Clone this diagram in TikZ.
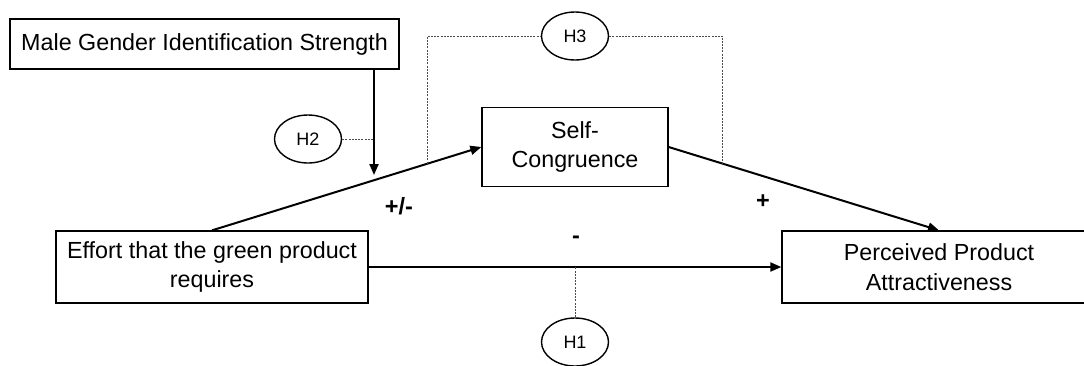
\documentclass[tikz,border=0pt]{standalone}
\usepackage{fontspec}
\setmainfont{Liberation Sans}
\usetikzlibrary{arrows.meta,shapes.geometric}
\begin{document}
\begin{tikzpicture}[x=1pt,y=-1pt,
  box/.style={draw=black,line width=1.3pt,rectangle,align=center,inner sep=0pt,
    font=\fontsize{23.3}{29.5}\selectfont},
  hyp/.style={draw=black,line width=1.4pt,ellipse,inner sep=0pt,
    minimum width=67pt,minimum height=48pt,font=\fontsize{18}{20}\selectfont},
  arr/.style={draw=black,line width=2pt,-{Triangle[length=11pt,width=9pt]}},
  dot/.style={draw=black!70,line width=0.8pt,dash pattern=on 2pt off 1.2pt},
  sign/.style={font=\fontsize{23.5}{25}\selectfont\bfseries,inner sep=0pt}]
\useasboundingbox (0,0) rectangle (1084,365);
\fill[white] (0,0) rectangle (1084,365);
% boxes
\node[box,minimum width=389pt,minimum height=50pt] (male) at (204.5,44) {Male Gender Identification Strength};
\node[box,minimum width=186pt,minimum height=79pt] (self) at (575,147) {Self-\\Congruence};
\node[box,minimum width=312pt,minimum height=72pt] (effort) at (212,267) {Effort that the green product\\requires};
\node[box,minimum width=314pt,minimum height=72pt] (perc) at (939,267) {Perceived Product\\Attractiveness};
% hypotheses
\node[hyp] (h1) at (575,342) {H1};
\node[hyp] (h2) at (308,139) {H2};
\node[hyp] (h3) at (575,36) {H3};
% signs
\node[sign] (s1) at (399,206) {+/-};
\node[sign] (s2) at (763,202) {+};
\node[sign] (s3) at (576,240) {-};
% arrows
\coordinate (mtip) at (374,175);
\draw[arr] (mtip |- male.south) -- (mtip);
\draw[arr] (effort.north) -- (self.west);
\draw[arr] (self.east) -- (perc.north);
\draw[arr] (effort.east) -- (perc.west);
% dotted links
\draw[dot] (h2.east) -- (h2.east -| mtip);
\draw[dot] (h1.north) -- (h1.north |- effort.east);
\path (effort.north) -- (self.west) coordinate[pos=0.8] (l3);
\path (self.east) -- (perc.north) coordinate[pos=0.2] (r3);
\draw[dot] (l3) |- (h3.west);
\draw[dot] (h3.east) -| (r3);
\end{tikzpicture}
\end{document}
